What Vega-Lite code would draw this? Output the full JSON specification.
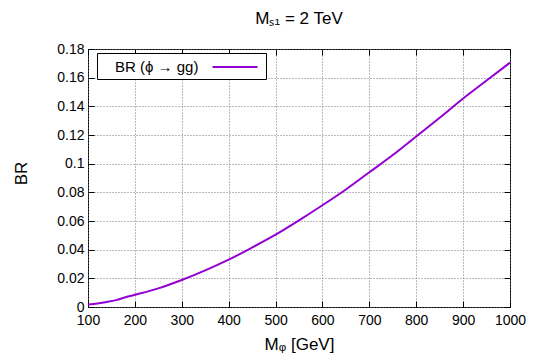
{
  "$schema": "https://vega.github.io/schema/vega-lite/v6.json",
  "autosize": "none",
  "width": 422,
  "height": 258,
  "padding": {"left": 88, "top": 49, "right": 33, "bottom": 49},
  "background": "white",
  "config": {
    "font": "Liberation Sans",
    "view": {"stroke": "black", "strokeWidth": 1},
    "axis": {"labelFont": "Liberation Sans", "titleFont": "Liberation Sans", "labelFontSize": 14, "labelColor": "black", "titleColor": "black", "titleFontWeight": "normal", "titleFontSize": 17, "domain": false, "labelFlush": false, "tickColor": "black", "gridColor": "#777", "gridDash": [1, 2], "gridOpacity": 1, "gridWidth": 1}
  },
  "title": {"text": "Mₛ₁ = 2 TeV", "font": "Liberation Sans", "fontSize": 17, "fontWeight": "normal", "color": "black", "offset": 14, "anchor": "middle"},
  "data": {"values": [
    {"m": 100, "br": 0.0018, "s": "BR (ϕ → gg)"},
    {"m": 120, "br": 0.0025, "s": "BR (ϕ → gg)"},
    {"m": 140, "br": 0.0035, "s": "BR (ϕ → gg)"},
    {"m": 160, "br": 0.0048, "s": "BR (ϕ → gg)"},
    {"m": 180, "br": 0.0068, "s": "BR (ϕ → gg)"},
    {"m": 200, "br": 0.0085, "s": "BR (ϕ → gg)"},
    {"m": 250, "br": 0.013, "s": "BR (ϕ → gg)"},
    {"m": 300, "br": 0.0188, "s": "BR (ϕ → gg)"},
    {"m": 350, "br": 0.0255, "s": "BR (ϕ → gg)"},
    {"m": 400, "br": 0.033, "s": "BR (ϕ → gg)"},
    {"m": 450, "br": 0.0415, "s": "BR (ϕ → gg)"},
    {"m": 500, "br": 0.0505, "s": "BR (ϕ → gg)"},
    {"m": 550, "br": 0.0605, "s": "BR (ϕ → gg)"},
    {"m": 600, "br": 0.071, "s": "BR (ϕ → gg)"},
    {"m": 650, "br": 0.082, "s": "BR (ϕ → gg)"},
    {"m": 700, "br": 0.094, "s": "BR (ϕ → gg)"},
    {"m": 750, "br": 0.106, "s": "BR (ϕ → gg)"},
    {"m": 800, "br": 0.119, "s": "BR (ϕ → gg)"},
    {"m": 850, "br": 0.132, "s": "BR (ϕ → gg)"},
    {"m": 900, "br": 0.1455, "s": "BR (ϕ → gg)"},
    {"m": 950, "br": 0.158, "s": "BR (ϕ → gg)"},
    {"m": 1000, "br": 0.1705, "s": "BR (ϕ → gg)"}
  ]},
  "layer": [
    {
      "mark": {"type": "line", "strokeWidth": 2, "interpolate": "monotone"},
      "encoding": {
        "x": {"field": "m", "type": "quantitative", "scale": {"domain": [100, 1000], "nice": false, "zero": false},
              "axis": {"title": "Mᵩ [GeV]", "values": [100,200,300,400,500,600,700,800,900,1000], "format": "d", "tickSize": -6, "labelPadding": 12, "titlePadding": 9, "grid": true}},
        "y": {"field": "br", "type": "quantitative", "scale": {"domain": [0, 0.18], "nice": false},
              "axis": {"title": "BR", "values": [0,0.02,0.04,0.06,0.08,0.1,0.12,0.14,0.16,0.18], "format": "~g", "tickSize": -6, "labelPadding": 10, "titlePadding": 26, "titleY": 124, "grid": true}},
        "color": {"field": "s", "type": "nominal", "scale": {"range": ["#9400d3"]},
                  "legend": {"title": null, "orient": "none", "legendX": 9, "legendY": 4, "strokeColor": "black", "fillColor": "white", "padding": 4,
                             "symbolType": "M-2.5,0H2.5", "symbolSize": 324, "symbolStrokeWidth": 2, "symbolOffset": 124, "labelOffset": -130,
                             "labelFontSize": 15, "labelFont": "Liberation Sans", "labelColor": "black"}}
      }
    },
    {
      "mark": {"type": "line", "opacity": 0},
      "encoding": {
        "x": {"field": "m", "type": "quantitative", "axis": {"orient": "top", "labels": false, "title": null, "grid": false, "tickSize": -6, "values": [100,200,300,400,500,600,700,800,900,1000]}},
        "y": {"field": "br", "type": "quantitative", "axis": {"orient": "right", "labels": false, "title": null, "grid": false, "tickSize": -6, "values": [0,0.02,0.04,0.06,0.08,0.1,0.12,0.14,0.16,0.18]}}
      }
    }
  ],
  "resolve": {"axis": {"x": "independent", "y": "independent"}}
}
